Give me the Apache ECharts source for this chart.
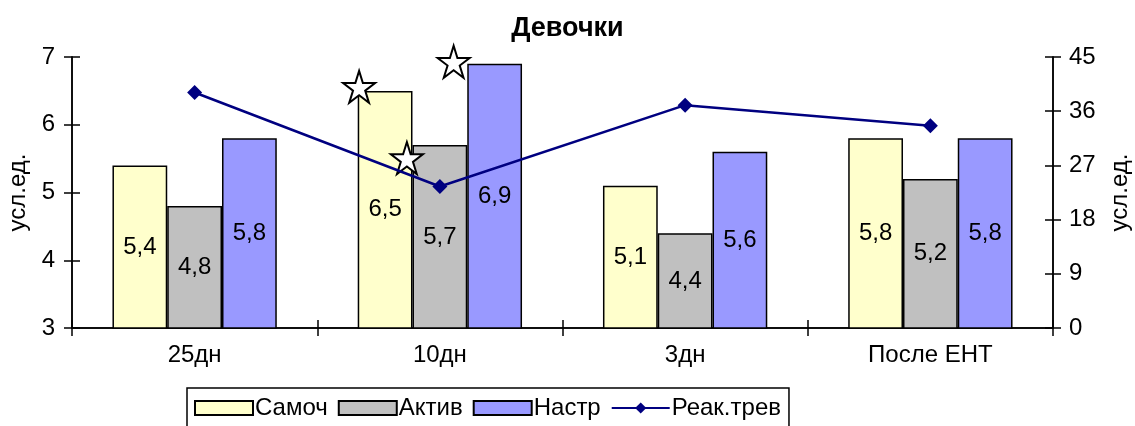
<!DOCTYPE html>
<html>
<head>
<meta charset="utf-8">
<script src="https://cdn.jsdelivr.net/npm/echarts@6/dist/echarts.min.js"></script>
<style>
  html, body { margin: 0; padding: 0; background: #fff; }
  #chart { width: 1135px; height: 426px; }
</style>
</head>
<body>
<div id="chart"></div>
<script>
// Categories (stages) and series values
const categories = ['25дн', '10дн', '3дн', 'После ЕНТ'];
const samoch = [5.4, 6.5, 5.1, 5.8];     // Самоч
const aktiv = [4.8, 5.7, 4.4, 5.2];      // Актив
const nastr = [5.8, 6.9, 5.6, 5.8];      // Настр
const reakTrev = [39.1, 23.5, 37.0, 33.6]; // Реак.трев (right axis)

// Left and right axis tick ranges
const leftMin = 3, leftMax = 7, leftStep = 1;
const rightMin = 0, rightMax = 45, rightStep = 9;

const FONT = 'Liberation Sans, Arial, sans-serif';
const FS = 24;
const STAR = 'path://M50 2L61.2 36.6L97.6 36.5L68.1 57.9L79.4 92.5L50 71L20.6 92.5L31.9 57.9L2.4 36.5L38.8 36.6Z';

const fmt = v => String(v).replace('.', ',');

function starMark(values, catIndex, offset) {
  return {
    coord: [catIndex, values[catIndex]],
    symbol: STAR,
    symbolSize: [32, 32],
    symbolOffset: offset,
    itemStyle: { color: '#fff', borderColor: '#000', borderWidth: 2 },
    label: { show: false }
  };
}

function barSeries(name, values, color, stars) {
  return {
    name: name,
    type: 'bar',
    xAxisIndex: 0,
    yAxisIndex: 0,
    data: values,
    barGap: '0%',
    barCategoryGap: '33%',
    itemStyle: { color: color, borderColor: '#000', borderWidth: 1.5 },
    label: {
      show: true,
      position: 'inside',
      color: '#000',
      fontSize: FS,
      fontFamily: FONT,
      formatter: p => fmt(p.value)
    },
    markPoint: stars.length ? { silent: true, animation: false, data: stars } : undefined
  };
}

const axisLine = { show: true, lineStyle: { color: '#000', width: 1.5 } };
const tickOut = { show: true, inside: false, length: 8, lineStyle: { color: '#000', width: 1.5 } };
const tickIn = { show: true, inside: true, length: 8, lineStyle: { color: '#000', width: 1.5 } };

const option = {
  animation: false,
  backgroundColor: '#fff',
  title: {
    text: 'Девочки',
    left: 'center',
    top: 10,
    textStyle: { fontFamily: FONT, fontSize: 27, fontWeight: 'bold', color: '#000' }
  },
  grid: { left: 72, right: 82, top: 57, bottom: 98, containLabel: false, outerBoundsMode: 'none' },
  legend: {
    left: 187,
    top: 388,
    padding: [8, 8, 20, 7],
    itemGap: 10,
    itemWidth: 58,
    itemHeight: 14,
    borderColor: '#000',
    borderWidth: 1.5,
    textStyle: { fontFamily: FONT, fontSize: FS, color: '#000', padding: [0, 0, 0, -3] },
    data: [
      { name: 'Самоч', icon: 'rect' },
      { name: 'Актив', icon: 'rect' },
      { name: 'Настр', icon: 'rect' },
      { name: 'Реак.трев' }
    ]
  },
  xAxis: [
    {
      type: 'category',
      data: categories,
      position: 'bottom',
      axisLine: { ...axisLine, onZero: false },
      axisTick: tickOut,
      axisLabel: { fontFamily: FONT, fontSize: FS, color: '#000', margin: 15 },
      splitLine: { show: false }
    },
    {
      type: 'category',
      data: categories,
      position: 'bottom',
      axisLine: { ...axisLine, onZero: false },
      axisTick: tickIn,
      axisLabel: { show: false },
      splitLine: { show: false }
    }
  ],
  yAxis: [
    {
      type: 'value',
      position: 'left',
      min: leftMin, max: leftMax, interval: leftStep,
      name: 'усл.ед.',
      nameLocation: 'middle',
      nameRotate: 90,
      nameGap: 39,
      nameTextStyle: { fontFamily: FONT, fontSize: FS, color: '#000' },
      axisLine: axisLine,
      axisTick: tickOut,
      axisLabel: { fontFamily: FONT, fontSize: FS, color: '#000', margin: 17 },
      splitLine: { show: false }
    },
    {
      type: 'value',
      position: 'right',
      min: rightMin, max: rightMax, interval: rightStep,
      name: 'усл.ед.',
      nameLocation: 'middle',
      nameRotate: 90,
      nameGap: 55,
      nameTextStyle: { fontFamily: FONT, fontSize: FS, color: '#000' },
      axisLine: axisLine,
      axisTick: tickOut,
      axisLabel: { fontFamily: FONT, fontSize: FS, color: '#000', margin: 16 },
      splitLine: { show: false }
    },
    {
      type: 'value',
      position: 'left',
      min: leftMin, max: leftMax, interval: leftStep,
      axisLine: axisLine,
      axisTick: tickIn,
      axisLabel: { show: false },
      splitLine: { show: false }
    },
    {
      type: 'value',
      position: 'right',
      min: rightMin, max: rightMax, interval: rightStep,
      axisLine: axisLine,
      axisTick: tickIn,
      axisLabel: { show: false },
      splitLine: { show: false }
    }
  ],
  series: [
    barSeries('Самоч', samoch, '#FFFFCC', [starMark(samoch, 1, [-26, -4])]),
    barSeries('Актив', aktiv, '#C0C0C0', [starMark(aktiv, 1, [-33, 13])]),
    barSeries('Настр', nastr, '#9999FF', [starMark(nastr, 1, [-41, -2])]),
    {
      name: 'Реак.трев',
      type: 'line',
      xAxisIndex: 0,
      yAxisIndex: 1,
      data: reakTrev,
      symbol: 'diamond',
      symbolSize: 15,
      z: 5,
      lineStyle: { color: '#000080', width: 2.5 },
      itemStyle: { color: '#000080' }
    }
  ]
};

const chart = echarts.init(document.getElementById('chart'), null, { renderer: 'canvas' });
chart.setOption(option);
</script>
</body>
</html>
